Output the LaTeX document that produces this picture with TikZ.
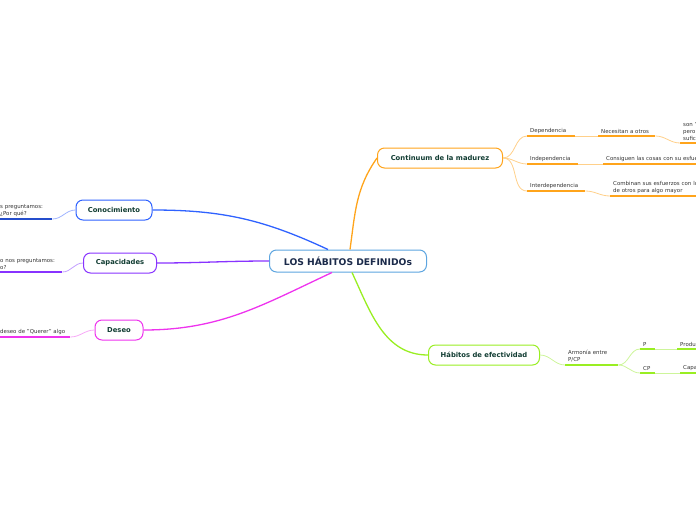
\documentclass[tikz,border=0pt]{standalone}
\usepackage{fontspec}
\setmainfont{DejaVu Sans}
\definecolor{rootblue}{HTML}{5DA5E0}
\definecolor{navy}{HTML}{1B2A4A}
\definecolor{topicgreen}{HTML}{123D33}
\definecolor{org}{HTML}{FFA41B}
\definecolor{orgl}{HTML}{FFD08A}
\definecolor{grn}{HTML}{99EE22}
\definecolor{grnl}{HTML}{CDF59A}
\definecolor{blu}{HTML}{2F62FF}
\definecolor{blul}{HTML}{A0B4FF}
\definecolor{pur}{HTML}{8833FF}
\definecolor{purl}{HTML}{C3A0FF}
\definecolor{mag}{HTML}{EE33EE}
\definecolor{magl}{HTML}{F7A8F7}

\begin{document}
\begin{tikzpicture}[x=1pt,y=-1pt,
    topic/.style={draw, line width=1pt, rounded corners=7pt, fill=white,
      text=topicgreen, font=\fontsize{6.8}{8}\selectfont\bfseries,
      minimum height=20pt, inner xsep=6pt},
    leaf/.style={anchor=south west, align=left, inner xsep=3pt, inner ysep=2.5pt,
      text=black!80, font=\fontsize{5.45}{7}\selectfont},
    uline/.style={line width=1.6pt},
    conn/.style={line width=0.8pt}]
    \useasboundingbox (0,0) rectangle (696,520);
    \clip (0,0) rectangle (696,520);

    % main topics
    \node[topic, draw=rootblue, text=navy, minimum width=157pt, minimum height=22pt,
      font=\fontsize{9.2}{10}\selectfont\bfseries] (root) at (348,261) {LOS HÁBITOS DEFINIDOs};
    \node[topic, draw=org, minimum width=125pt] (cont) at (440,158) {Continuum de la madurez};
    \node[topic, draw=grn, minimum width=111pt] (efec) at (484,355) {Hábitos de efectividad};
    \node[topic, draw=blu, minimum width=76pt] (cono) at (114,210) {Conocimiento};
    \node[topic, draw=pur, minimum width=73pt] (capa) at (120,263) {Capacidades};
    \node[topic, draw=mag, minimum width=48pt] (deseo) at (119,330) {Deseo};

    \draw[org, line width=1.3pt] ([xshift=2]root.north) to[out=82,in=235] (cont.west);
    \draw[grn, line width=1.3pt] ([xshift=4]root.south) to[out=-65,in=180] (efec.west);
    \draw[blu, line width=1.3pt] ([xshift=-20]root.north) to[out=155,in=0] (cono.east);
    \draw[pur, line width=1.3pt] (root.west) to[out=180,in=0] (capa.east);
    \draw[mag, line width=1.3pt] ([xshift=-16]root.south) to[out=205,in=0] (deseo.east);

    % continuum
    \node[leaf, text width=42pt] (dep) at (527,136) {Dependencia};
    \node[leaf, text width=45pt] (ind) at (527,164) {Independencia};
    \node[leaf, text width=52pt] (inter) at (527,191) {Interdependencia};
    \node[leaf, text width=51pt] (nec) at (598,136) {Necesitan a otros};
    \node[leaf, text width=60pt] (son) at (680,143) {son "valientes"\\pero no\\suficientes};
    \node[leaf, text width=110pt] (consi) at (603,164) {Consiguen las cosas con su esfuerzo};
    \node[leaf, text width=110pt] (comb) at (610,196) {Combinan sus esfuerzos con los\\de otros para algo mayor};
    \foreach \n in {dep,ind,inter,nec,son,consi,comb}
      \draw[org, uline] (\n.south west) -- (\n.south east);
    \draw[orgl, conn] (cont.east) to[out=0,in=180] (dep.south west);
    \draw[orgl, conn] (cont.east) to[out=0,in=180] (ind.south west);
    \draw[orgl, conn] (cont.east) to[out=0,in=180] (inter.south west);
    \draw[orgl, conn] (dep.south east) -- (nec.south west);
    \draw[orgl, conn] (nec.south east) to[out=0,in=180] (son.south west);
    \draw[orgl, conn] (ind.south east) -- (consi.south west);
    \draw[orgl, conn] (inter.south east) to[out=0,in=180] (comb.south west);

    % efectividad
    \node[leaf, text width=47pt] (arm) at (565,365) {Armonía entre\\P/CP};
    \node[leaf, text width=9pt] (p) at (640,349) {P};
    \node[leaf, text width=9pt] (cp) at (640,373) {CP};
    \node[leaf, text width=60pt] (prod) at (677,349) {Producción};
    \node[leaf, text width=90pt] (cap) at (680,373) {Capacidad de producción};
    \foreach \n in {arm,p,cp,prod,cap}
      \draw[grn, uline] (\n.south west) -- (\n.south east);
    \draw[grnl, conn] (efec.east) to[out=0,in=180] (arm.south west);
    \draw[grnl, conn] (arm.south east) to[out=0,in=180] (p.south west);
    \draw[grnl, conn] (arm.south east) to[out=0,in=180] (cp.south west);
    \draw[grnl, conn] (p.south east) -- (prod.south west);
    \draw[grnl, conn] (cp.south east) -- (cap.south west);

    % left side
    \node[leaf, text width=49pt] (q1) at (-3,219) {s preguntamos:\\¿Por qué?};
    \node[leaf, text width=59pt] (q2) at (-3,272) {o nos preguntamos:\\o?};
    \node[leaf, text width=67pt] (q3) at (-3,337) {deseo de "Querer" algo};
    \draw[blu!80!black, uline] (q1.south west) -- (q1.south east);
    \draw[pur, uline] (q2.south west) -- (q2.south east);
    \draw[mag, uline] (q3.south west) -- (q3.south east);
    \draw[blul, conn] (cono.west) to[out=180,in=0] (q1.south east);
    \draw[purl, conn] (capa.west) to[out=180,in=0] (q2.south east);
    \draw[magl, conn] (deseo.west) to[out=180,in=0] (q3.south east);
\end{tikzpicture}
\end{document}
